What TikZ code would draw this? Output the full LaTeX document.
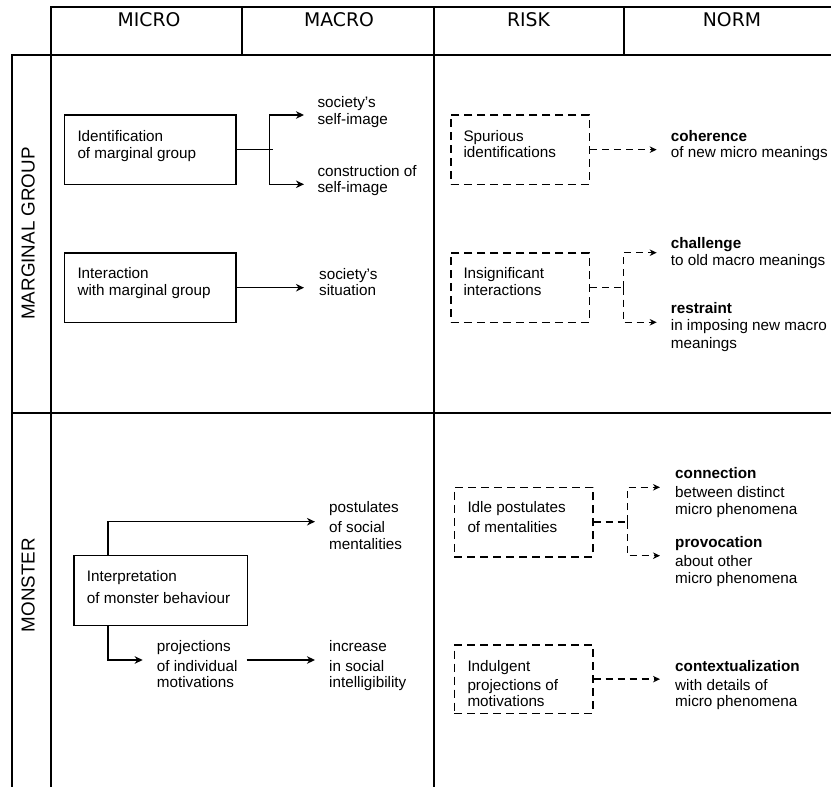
\documentclass[tikz,border=0pt]{standalone}
\usepackage{fontspec}
\setmainfont{Liberation Sans}
\newfontfamily\myHdrFamily{DejaVu Sans}
\usetikzlibrary{arrows.meta}
\newcommand{\myBody}{\fontsize{15.25}{16.7}\selectfont}
\newcommand{\myHdr}{\myHdrFamily\fontsize{18.8}{22}\selectfont}
\newcommand{\myRow}{\fontsize{18.8}{22}\selectfont}
\newcommand{\myst}{\rule{0pt}{12pt}}
\begin{document}
\begin{tikzpicture}[x=1pt,y=-1pt,
  tbl/.style={line width=2.2pt},
  hdr/.style={font=\myHdr, anchor=base, inner sep=0pt},
  rowlab/.style={font=\myRow, rotate=90, anchor=base, inner sep=0pt},
  solidbox/.style={draw, line width=1.5pt, minimum width=171.7pt, minimum height=69.5pt, inner sep=0pt},
  dashbox/.style={draw, line width=1.5pt, dash pattern=on 8pt off 5pt, minimum width=138.5pt, minimum height=69.5pt, inner sep=0pt},
  txt/.style={font=\myBody, align=left, anchor=north west, inner sep=0pt},
  ln/.style={line width=1.5pt},
  arr/.style={line width=1.5pt, -{Stealth[length=8pt,width=7.5pt,inset=2.5pt]}},
  dln/.style={line width=1.5pt, dash pattern=on 7pt off 5pt},
  darr/.style={dln, -{Stealth[length=7pt,width=6.5pt,inset=2.2pt]}}
]
\useasboundingbox (0,0) rectangle (831,787);

% table grid
\draw[tbl] (831,7.3) -- (51,7.3) -- (51,787);
\draw[tbl] (11.7,787) -- (11.7,55) -- (831,55);
\draw[tbl] (242,7.3) -- (242,55);
\draw[tbl] (434,7.3) -- (434,787);
\draw[tbl] (624,7.3) -- (624,55);
\draw[tbl] (11.7,412.7) -- (831,412.7);

% headers
\node[hdr] (hmicro) at (149,27) {MICRO};
\node[hdr] (hmacro) at (339,27) {MACRO};
\node[hdr] (hrisk) at (528.5,27) {RISK};
\node[hdr] (hnorm) at (732,27) {NORM};

% row labels
\node[rowlab] (rmarg) at (34.5,233.5) {MARGINAL GROUP};
\node[rowlab] (rmon) at (34.5,585) {MONSTER};

% ---------- MARGINAL GROUP ----------
\node[solidbox] (idbox) at (150.15,149.65) {};
\node[txt] (idtext) at (77.3,129.7) {\myst Identification\\of marginal group};
\node[solidbox] (inbox) at (150.15,287.7) {};
\node[txt] (intext) at (77.3,266.3) {\myst Interaction\\with marginal group};

\node[txt] (ssi) at (317.3,95.7) {\myst society’s\\self-image};
\node[txt] (cos) at (317.3,164) {\myst construction of\\self-image};
\node[txt] (sit) at (319,267) {\myst society’s\\situation};

\coordinate (idfork) at (272.7,149.65);
\coordinate (idmid) at (269.7,149.65);
\coordinate (ssiend) at (304,115);
\coordinate (cosend) at (304,184.3);
\coordinate (sitend) at (304,287.7);
\draw[ln] (idbox.east) -- (idfork);
\draw[arr] (idmid) |- (ssiend);
\draw[arr] (idmid) |- (cosend);
\draw[arr] (inbox.east) -- (sitend);

\node[dashbox] (spbox) at (520,149.65) {};
\node[txt] (sptext) at (463.3,129.7) {\myst Spurious\\[-0.7pt]identifications};
\node[dashbox] (isbox) at (520,287.7) {};
\node[txt] (istext) at (463.3,266.3) {\myst Insignificant\\interactions};

\node[txt] (coh) at (670.7,129) {\myst\textbf{coherence}\\of new micro meanings};
\node[txt] (cha) at (670.7,236.3) {\myst\textbf{challenge}\\to old macro meanings};
\node[txt] (res) at (670.7,301.3) {\myst\textbf{restraint}\\in imposing new macro\\[1.6pt]meanings};

\coordinate (cohend) at (656.7,149.65);
\coordinate (isjunc) at (623.3,287.7);
\coordinate (chaend) at (656.7,252.7);
\coordinate (resend) at (656.7,322.3);
\draw[darr] (spbox.east) -- (cohend);
\draw[dln] (isbox.east) -- (isjunc);
\draw[darr] (isjunc) |- (chaend);
\draw[darr] (isjunc) |- (resend);

% ---------- MONSTER ----------
\node[solidbox, minimum width=173.3pt, minimum height=70pt] (mobox) at (160.65,590.7) {};
\node[txt] (motext) at (86.7,569.7) {\myst Interpretation\\[5pt]of monster behaviour};

\node[txt] (post) at (329,500.7) {\myst postulates\\[3.3pt]of social\\mentalities};
\node[txt] (proj) at (156.7,639.7) {\myst projections\\[2.6pt]of individual\\motivations};
\node[txt] (incr) at (329,639.7) {\myst increase\\[2.6pt]in social\\intelligibility};

\coordinate (postend) at (315,521.7);
\coordinate (projend) at (142.7,660);
\coordinate (projout) at (246.7,660);
\coordinate (incrend) at (315,660);
\draw[arr] ([xshift=34.7pt]mobox.north west) |- (postend);
\draw[arr] ([xshift=34.7pt]mobox.south west) |- (projend);
\draw[arr] (projout) -- (incrend);

\node[dashbox] (idlebox) at (523.5,522) {};
\node[txt] (idletext) at (467.3,500.7) {\myst Idle postulates\\[3.3pt]of mentalities};
\node[dashbox, minimum height=68.3pt] (indbox) at (523.5,679.15) {};
\node[txt] (indtext) at (467.3,659) {\myst Indulgent\\[2.3pt]projections of\\motivations};

\node[txt] (con) at (675,466.3) {\myst\textbf{connection}\\[2.3pt]between distinct\\micro phenomena};
\node[txt] (prov) at (675,535.7) {\myst\textbf{provocation}\\[2.3pt]about other\\micro phenomena};
\node[txt] (ctx) at (675,659) {\myst\textbf{contextualization}\\[2.3pt]with details of\\micro phenomena};

\coordinate (idlejunc) at (627.3,522);
\coordinate (conend) at (660,487.3);
\coordinate (provend) at (660,555.7);
\coordinate (ctxend) at (660,679.15);
\draw[dln] (idlebox.east) -- (idlejunc);
\draw[darr] (idlejunc) |- (conend);
\draw[darr] (idlejunc) |- (provend);
\draw[darr] (indbox.east) -- (ctxend);
\end{tikzpicture}
\end{document}
